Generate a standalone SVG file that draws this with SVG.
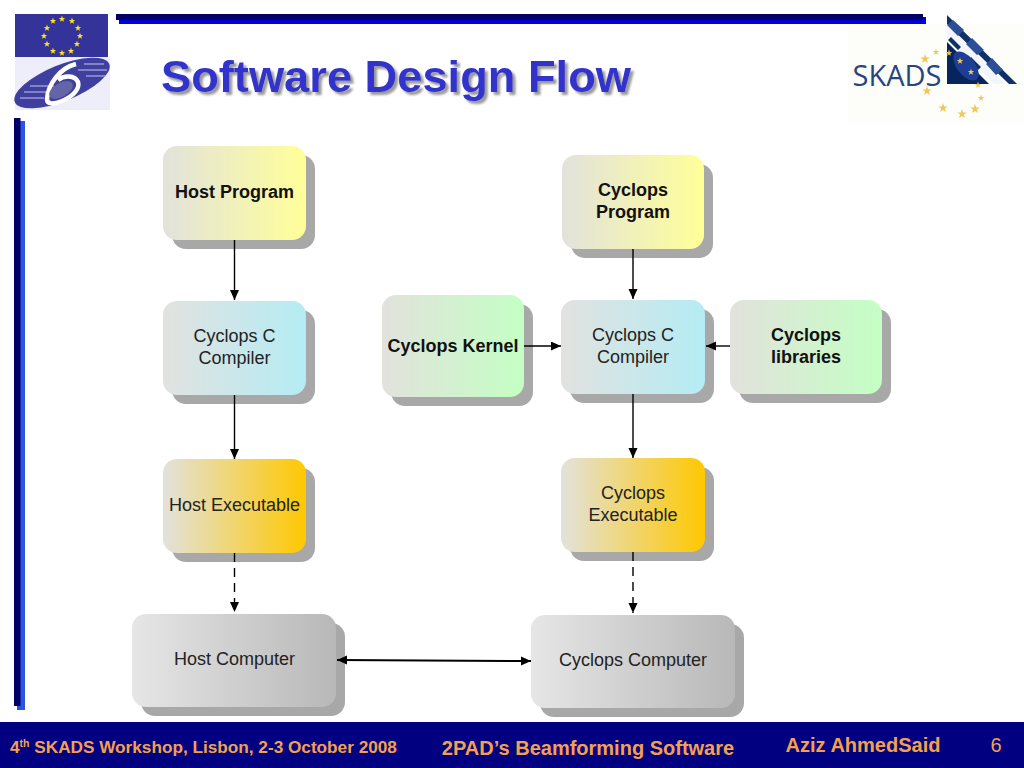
<svg xmlns="http://www.w3.org/2000/svg" width="1024" height="768" viewBox="0 0 1024 768">
<style>
text{font-family:"Liberation Sans",Arial,sans-serif;text-anchor:middle}
.n{font-size:18px;fill:#222}
.b{font-size:18px;font-weight:bold;fill:#111}
.sh{fill:#a8a8a8}
.f{font-size:17.2px;font-weight:bold;fill:#f5a04e}
.c{stroke:#000;stroke-width:1.4;fill:none}
.d{stroke-dasharray:9 6}
</style>
<defs>
<linearGradient id="gy"><stop offset="0" stop-color="#e2e2dc"/><stop offset="1" stop-color="#ffff99"/></linearGradient>
<linearGradient id="gc"><stop offset="0" stop-color="#e2e2e0"/><stop offset="1" stop-color="#b4ecf4"/></linearGradient>
<linearGradient id="gg"><stop offset="0" stop-color="#e2e2dc"/><stop offset="1" stop-color="#c4ffc4"/></linearGradient>
<linearGradient id="go"><stop offset="0" stop-color="#e2e2dc"/><stop offset="1" stop-color="#ffc800"/></linearGradient>
<linearGradient id="gs"><stop offset="0" stop-color="#e6e6e6"/><stop offset="1" stop-color="#b8b8b8"/></linearGradient>
<filter id="ts" x="-5%" y="-20%" width="110%" height="140%"><feDropShadow dx="3" dy="3" stdDeviation="0.8" flood-color="#9a9a9a"/></filter>
<marker id="a" markerUnits="userSpaceOnUse" markerWidth="11" markerHeight="10" refX="10" refY="4.5" orient="auto-start-reverse"><path d="M0 0L10 4.500L0 9z" fill="#000"/></marker>
<polygon id="st" points="0,-5 1.2,-1.6 4.8,-1.5 1.9,.6 2.9,4 0,2 -2.9,4 -1.9,.6 -4.8,-1.5 -1.2,-1.6"/>
<polygon id="ss" points="0,-3.400 .8,-1.100 3.200,-1 1.300,.4 2,2.700 0,1.400 -2,2.700 -1.300,.4 -3.200,-1 -.8,-1.100"/>
</defs>
<rect width="1024" height="768" fill="#fff"/>

<g id="frame">
<rect x="119" y="17" width="807" height="7" fill="#0000d8"/>
<rect x="116" y="14" width="807" height="6" fill="#000066"/>
<rect x="17" y="121" width="8" height="589" fill="#2a55e0"/>
<rect x="14" y="118" width="6.500" height="588" fill="#000066"/>
</g>

<g id="fp6-logo">
<rect x="15" y="57" width="95" height="53" fill="#eeeefa"/>
<rect x="15" y="14" width="93" height="43" fill="#333399"/>
<g fill="#ffe020">
<use href="#ss" x="62" y="19"/><use href="#ss" x="72" y="21"/><use href="#ss" x="78" y="28"/><use href="#ss" x="80" y="36"/><use href="#ss" x="77" y="44"/><use href="#ss" x="71" y="51"/><use href="#ss" x="62" y="53"/><use href="#ss" x="53" y="51"/><use href="#ss" x="47" y="44"/><use href="#ss" x="44" y="36"/><use href="#ss" x="47" y="28"/><use href="#ss" x="53" y="21"/>
</g>
<ellipse cx="62" cy="83" rx="51" ry="18" transform="rotate(-22 62 83)" fill="#3f3f9f"/>
<path d="M24 92H48M20 98H44M30 86H54M84 64H104M78 70H107M86 76H106" stroke="#c8c8ea" stroke-width="1.200"/>
<path d="M76 64C60 68 48 84 47 99C47 105 54 104 62 101C74 96 80 88 78 82C75 75 64 75 58 80" fill="none" stroke="#fff" stroke-width="4.500"/>
<ellipse cx="61" cy="90" rx="13" ry="7" transform="rotate(-30 61 90)" fill="#6464a8"/>
</g>

<g id="skads-logo">
<rect x="848" y="24" width="176" height="100" fill="#fdfdfa"/>
<path d="M947 15L1017 84H1009L947 24Z" fill="#10306a"/>
<path d="M947 25L1005 84H994L947 38Z" fill="#f2f5fb"/>
<path d="M947 25L958 36L964 30L953 20ZM966 44L977 55L984 50L972 38ZM986 64L996 75L1003 70L992 58Z" fill="#2a4f96"/>
<path d="M948 40L958 50L961 47L951 37ZM968 60L978 70L981 67L971 57Z" fill="#10306a"/>
<polygon points="947,42 989,84 947,84" fill="#07245c"/>
<ellipse cx="966" cy="66" rx="9" ry="17" transform="rotate(-38 966 66)" fill="#1e3e96"/>
<text x="897" y="86" style="font-family:'Open Sans','Liberation Sans',sans-serif;font-size:29px" fill="#27467f">SKADS</text>
<g fill="#efc75a">
<use href="#ss" x="936" y="52"/><use href="#st" x="925" y="59"/><use href="#ss" x="949" y="53"/><use href="#ss" x="960" y="61"/><use href="#ss" x="971" y="72"/><use href="#ss" x="978" y="85"/><use href="#ss" x="981" y="98"/><use href="#st" x="975" y="109"/><use href="#st" x="962" y="114"/><use href="#st" x="943" y="108"/><use href="#st" x="927" y="91"/>
</g>
</g>

<g id="title">
<text x="396" y="92" font-size="44" font-weight="bold" fill="#3333cc" filter="url(#ts)" textLength="470" lengthAdjust="spacingAndGlyphs">Software Design Flow</text>
</g>

<g id="host-program"><rect class="sh" x="172" y="155" width="143" height="94" rx="14"/><rect x="163" y="146" width="143" height="94" rx="14" fill="url(#gy)"/><text class="b" x="234.500" y="198">Host Program</text></g>
<g id="host-compiler"><rect class="sh" x="172" y="310" width="143" height="94" rx="14"/><rect x="163" y="301" width="143" height="94" rx="14" fill="url(#gc)"/><text class="n" x="234.500" y="342">Cyclops C</text><text class="n" x="234.500" y="364">Compiler</text></g>
<g id="host-executable"><rect class="sh" x="172" y="468" width="143" height="94" rx="14"/><rect x="163" y="459" width="143" height="94" rx="14" fill="url(#go)"/><text class="n" x="234.500" y="511">Host Executable</text></g>
<g id="host-computer"><rect class="sh" x="141" y="623" width="204" height="93" rx="14"/><rect x="132" y="614" width="204" height="93" rx="14" fill="url(#gs)"/><text class="n" x="234.500" y="665">Host Computer</text></g>
<g id="cyclops-program"><rect class="sh" x="571" y="164" width="142" height="94" rx="14"/><rect x="562" y="155" width="142" height="94" rx="14" fill="url(#gy)"/><text class="b" x="633" y="196">Cyclops</text><text class="b" x="633" y="218">Program</text></g>
<g id="cyclops-kernel"><rect class="sh" x="391" y="304" width="142" height="102" rx="14"/><rect x="382" y="295" width="142" height="102" rx="14" fill="url(#gg)"/><text class="b" x="453" y="352">Cyclops Kernel</text></g>
<g id="cyclops-compiler"><rect class="sh" x="570" y="309" width="144" height="94" rx="14"/><rect x="561" y="300" width="144" height="94" rx="14" fill="url(#gc)"/><text class="n" x="633" y="341">Cyclops C</text><text class="n" x="633" y="363">Compiler</text></g>
<g id="cyclops-libraries"><rect class="sh" x="739" y="309" width="152" height="94" rx="14"/><rect x="730" y="300" width="152" height="94" rx="14" fill="url(#gg)"/><text class="b" x="806" y="341">Cyclops</text><text class="b" x="806" y="363">libraries</text></g>
<g id="cyclops-executable"><rect class="sh" x="570" y="467" width="144" height="94" rx="14"/><rect x="561" y="458" width="144" height="94" rx="14" fill="url(#go)"/><text class="n" x="633" y="499">Cyclops</text><text class="n" x="633" y="521">Executable</text></g>
<g id="cyclops-computer"><rect class="sh" x="540" y="624" width="204" height="93" rx="14"/><rect x="531" y="615" width="204" height="93" rx="14" fill="url(#gs)"/><text class="n" x="633" y="666">Cyclops Computer</text></g>

<g id="connectors">
<path class="c" d="M234.500 240V300" marker-end="url(#a)"/>
<path class="c" d="M234.500 395V459" marker-end="url(#a)"/>
<path class="c d" d="M234.500 553V612" marker-end="url(#a)"/>
<path class="c" d="M633 249V299" marker-end="url(#a)"/>
<path class="c" d="M633 394V458" marker-end="url(#a)"/>
<path class="c d" d="M633 552V613" marker-end="url(#a)"/>
<path class="c" d="M524 346H561" marker-end="url(#a)"/>
<path class="c" d="M730 346H706" marker-end="url(#a)"/>
<path class="c" style="stroke-width:2" d="M337 660L531 661" marker-start="url(#a)" marker-end="url(#a)"/>
</g>

<g id="footer">
<rect y="722" width="1024" height="46" fill="#000080"/>
<text class="f" style="text-anchor:start" x="10" y="753"><tspan>4</tspan><tspan font-size="10.500" dy="-6">th</tspan><tspan dy="6"> SKADS Workshop, Lisbon, 2-3 October 2008</tspan></text>
<text class="f" x="588" y="755" style="font-size:20px">2PAD’s Beamforming Software</text>
<text class="f" x="863" y="752" style="font-size:20px">Aziz AhmedSaid</text>
<text x="996" y="752" font-size="20" fill="#f5a04e">6</text>
</g>
</svg>
